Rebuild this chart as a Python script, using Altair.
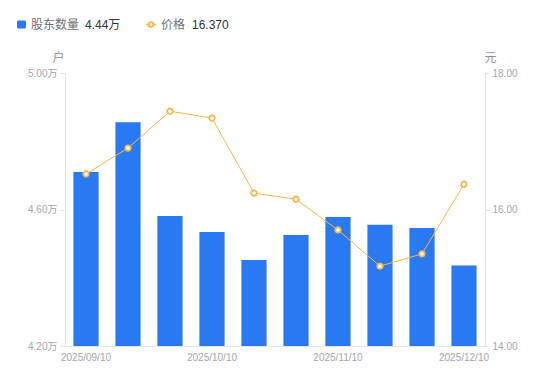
import altair as alt
import pandas as pd

dates = ["2025/09/10", "2025/09/19", "2025/09/30", "2025/10/10", "2025/10/20",
         "2025/10/31", "2025/11/10", "2025/11/20", "2025/11/28", "2025/12/10"]
holders = [47100, 48560, 45810, 45340, 44520, 45250, 45780, 45550, 45460, 44360]
prices = [16.52, 16.90, 17.44, 17.34, 16.24, 16.15, 15.70, 15.17, 15.35, 16.37]
shown_labels = ["2025/09/10", "2025/10/10", "2025/11/10", "2025/12/10"]

df = pd.DataFrame({"date": dates, "holders": holders, "price": prices})

FONT = "Liberation Sans, Noto Sans CJK SC, sans-serif"
BLUE = "#2979f2"
ORANGE = "#f8b446"
AXIS_GRAY = "#e3e3e8"
LABEL_GRAY = "#a3a3b3"

x_enc = alt.X(
    "date:N", sort=dates,
    scale=alt.Scale(paddingInner=0.4, paddingOuter=0.2),
    axis=alt.Axis(
        title=None, labelAngle=0, ticks=False, labelPadding=6,
        labelOverlap=False, domainColor=AXIS_GRAY,
        labelExpr="indexof(" + str(shown_labels) + ", datum.value) >= 0 ? datum.value : ''",
    ),
)

bars = alt.Chart(df).mark_bar(color=BLUE).encode(
    x=x_enc,
    y=alt.Y(
        "holders:Q",
        scale=alt.Scale(domain=[42000, 50000], zero=False, nice=False),
        axis=alt.Axis(
            title="户", titleAngle=0, titleAlign="center", titleBaseline="middle",
            titleX=-7, titleY=-16, values=[42000, 46000, 50000], grid=False,
            labelExpr="format(datum.value / 10000, '.2f') + '万'",
            tickSize=5, labelPadding=3,
        ),
    ),
    y2=alt.datum(42000),
)

price_y = alt.Y(
    "price:Q",
    scale=alt.Scale(domain=[14, 18], zero=False, nice=False),
    axis=alt.Axis(
        title="元", orient="right", titleAngle=0, titleAlign="center",
        titleBaseline="middle", titleX=5, titleY=-16, values=[14, 16, 18],
        format=".2f", grid=False, tickSize=4, labelPadding=3,
    ),
)

line = alt.Chart(df).mark_line(color=ORANGE, strokeWidth=1).encode(x=x_enc, y=price_y)
pts = alt.Chart(df).mark_point(
    shape="circle", filled=True, fill="white", stroke=ORANGE, strokeWidth=1.8, size=30, opacity=1
).encode(x=x_enc, y=price_y)

one = pd.DataFrame({"k": [0]})
LY = -48.5
leg_sq = alt.Chart(one).mark_rect(color=BLUE, cornerRadius=1.5).encode(
    x=alt.value(-48), x2=alt.value(-39), y=alt.value(-52.5), y2=alt.value(-44.5))
leg_t1 = alt.Chart(one).mark_text(
    text="股东数量", align="left", baseline="middle", fontSize=12, color="#6e6e7a", font=FONT
).encode(x=alt.value(-34), y=alt.value(LY))
leg_v1 = alt.Chart(one).mark_text(
    text=f"{holders[-1] / 10000:.2f}万", align="left", baseline="middle", fontSize=12,
    color="#333333", font=FONT
).encode(x=alt.value(20), y=alt.value(LY))
leg_rule = alt.Chart(one).mark_rule(color=ORANGE, strokeWidth=1.5).encode(
    x=alt.value(81), x2=alt.value(91), y=alt.value(LY))
leg_pt = alt.Chart(one).mark_point(
    shape="circle", filled=True, fill="white", stroke=ORANGE, strokeWidth=1.8, size=22, opacity=1
).encode(x=alt.value(86), y=alt.value(LY))
leg_t2 = alt.Chart(one).mark_text(
    text="价格", align="left", baseline="middle", fontSize=12, color="#6e6e7a", font=FONT
).encode(x=alt.value(96), y=alt.value(LY))
leg_v2 = alt.Chart(one).mark_text(
    text=f"{prices[-1]:.3f}", align="left", baseline="middle", fontSize=12,
    color="#333333", font=FONT
).encode(x=alt.value(127), y=alt.value(LY))

chart = alt.layer(
    bars, alt.layer(line, pts),
    leg_sq, leg_t1, leg_v1, leg_rule, leg_pt, leg_t2, leg_v2,
).resolve_scale(y="independent").properties(
    width=420, height=273,
    autosize=alt.AutoSizeParams(type="none"),
    padding={"left": 57, "top": 65, "right": 57, "bottom": 35},
).configure_view(stroke=None).configure_axis(
    labelFont=FONT, titleFont=FONT, labelFontSize=10, titleFontSize=12,
    labelColor=LABEL_GRAY, titleColor="#8c8c9c", titleFontWeight="normal",
    domainColor=AXIS_GRAY, tickColor=AXIS_GRAY,
)

chart.save("out.html", embed_options={"renderer": "svg", "actions": False})
